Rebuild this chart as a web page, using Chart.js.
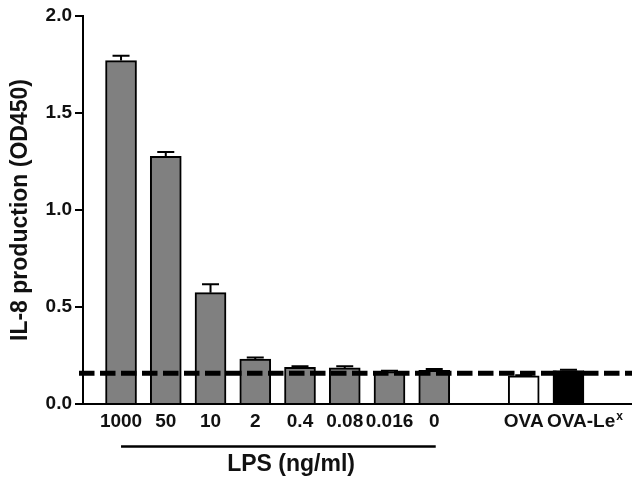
<!DOCTYPE html>
<html>
<head>
<meta charset="utf-8">
<script src="https://cdn.jsdelivr.net/npm/chart.js@4"></script>
<style>
html,body{margin:0;padding:0;background:#fff;}
#wrap{width:632px;height:480px;}
</style>
</head>
<body>
<div id="wrap"><canvas id="c" width="632" height="480"></canvas></div>
<script>
const categories = ['1000','50','10','2','0.4','0.08','0.016','0','','OVA','OVA-Le\u02E3'];
const values = [1.770, 1.277, 0.574, 0.232, 0.189, 0.186, 0.167, 0.174, null, 0.145, 0.172];
const errors = [0.025, 0.022, 0.043, 0.008, 0.006, 0.008, 0.005, 0.006, null, 0.003, 0.005];
const fills = ['#808080','#808080','#808080','#808080','#808080','#808080','#808080','#808080','#808080','#ffffff','#000000'];
const yTicks = [0, 0.5, 1.0, 1.5, 2.0];
const baseline = 0.158;
const lpsRange = [0, 7];
const xTitle = 'LPS (ng/ml)';
const yTitle = 'IL-8 production (OD450)';

const FONT = '"Liberation Sans", Arial, Helvetica, sans-serif';
const LAST = categories.length - 1;

const points = values.map((v, i) => ({x: i, y: v}));

const extras = {
  id: 'extras',
  beforeDraw(chart) {
    const ctx = chart.ctx;
    ctx.save();
    ctx.fillStyle = '#fff';
    ctx.fillRect(0, 0, chart.width, chart.height);
    ctx.restore();
  },
  afterDatasetsDraw(chart) {
    const ctx = chart.ctx, xs = chart.scales.x, ys = chart.scales.y;
    ctx.save();
    ctx.strokeStyle = '#000';
    ctx.lineWidth = 2;
    values.forEach((v, i) => {
      if (v == null || errors[i] == null) return;
      const px = xs.getPixelForValue(i);
      const y0 = ys.getPixelForValue(v);
      const y1 = ys.getPixelForValue(v + errors[i]);
      ctx.beginPath();
      ctx.moveTo(px, y0);
      ctx.lineTo(px, y1);
      ctx.moveTo(px - 8.5, y1);
      ctx.lineTo(px + 8.5, y1);
      ctx.stroke();
    });
    // dashed baseline
    const yb = ys.getPixelForValue(baseline);
    ctx.setLineDash([15.5, 5.5]);
    ctx.lineWidth = 5;
    ctx.beginPath();
    ctx.moveTo(chart.chartArea.left - 4, yb);
    ctx.lineTo(chart.chartArea.right, yb);
    ctx.stroke();
    ctx.restore();
  },
  afterDraw(chart) {
    const ctx = chart.ctx, xs = chart.scales.x;
    ctx.save();
    // bracket under LPS doses
    const xa = xs.getPixelForValue(lpsRange[0]);
    const xb = xs.getPixelForValue(lpsRange[1]);
    ctx.strokeStyle = '#000';
    ctx.lineWidth = 2.5;
    ctx.beginPath();
    ctx.moveTo(xa, 446.5);
    ctx.lineTo(xb + 1.5, 446.5);
    ctx.stroke();
    ctx.fillStyle = '#111';
    ctx.font = 'bold 23px ' + FONT;
    ctx.textAlign = 'center';
    ctx.textBaseline = 'alphabetic';
    ctx.fillText(xTitle, xs.getPixelForValue(3.8), 471);
    // last tick label with superscript
    const lab = categories[LAST];
    const main = lab.slice(0, -1);
    const sup = 'x';
    ctx.textAlign = 'left';
    ctx.font = 'bold 19px ' + FONT;
    const x0 = xs.getPixelForValue(LAST) - 21.5;
    ctx.fillText(main, x0, 426.5);
    const w = ctx.measureText(main).width;
    ctx.font = 'bold 12px ' + FONT;
    ctx.fillText(sup, x0 + w + 1, 420);
    ctx.restore();
  }
};

new Chart(document.getElementById('c'), {
  type: 'bar',
  data: {
    datasets: [{
      data: points,
      backgroundColor: fills,
      borderColor: '#000',
      borderWidth: 2,
      borderSkipped: 'bottom',
      barThickness: 31
    }]
  },
  options: {
    responsive: false,
    animation: false,
    devicePixelRatio: 1,
    layout: {padding: {top: 16, right: 0, left: 0, bottom: 0}},
    plugins: {legend: {display: false}, tooltip: {enabled: false}},
    scales: {
      x: {
        type: 'linear',
        offset: false,
        min: -0.85,
        max: 11.42,
        afterBuildTicks(s) { s.ticks = categories.map((_, i) => ({value: i})); },
        afterFit(s) { s.height = 76; },
        grid: {display: false, drawTicks: false, offset: false},
        border: {display: true, color: '#000', width: 2},
        ticks: {
          autoSkip: false,
          maxRotation: 0,
          padding: 6,
          color: '#111',
          font: {family: FONT, size: 19, weight: 'bold'},
          callback(v) { return (v !== LAST && categories[v] !== undefined) ? categories[v] : ''; }
        }
      },
      y: {
        min: 0,
        max: 2,
        afterBuildTicks(s) { s.ticks = yTicks.map(v => ({value: v})); },
        afterFit(s) { s.width = 83; },
        grid: {drawOnChartArea: false, drawTicks: true, tickLength: 8, color: '#000', lineWidth: 2},
        border: {display: true, color: '#000', width: 2},
        ticks: {
          padding: 3,
          color: '#111',
          font: {family: FONT, size: 19, weight: 'bold'},
          callback(v) { return Number(v).toFixed(1); }
        },
        title: {
          display: true,
          text: yTitle,
          color: '#111',
          font: {family: FONT, size: 23, weight: 'bold'},
          padding: {top: 7, bottom: 0}
        }
      }
    }
  },
  plugins: [extras]
});
</script>
</body>
</html>
